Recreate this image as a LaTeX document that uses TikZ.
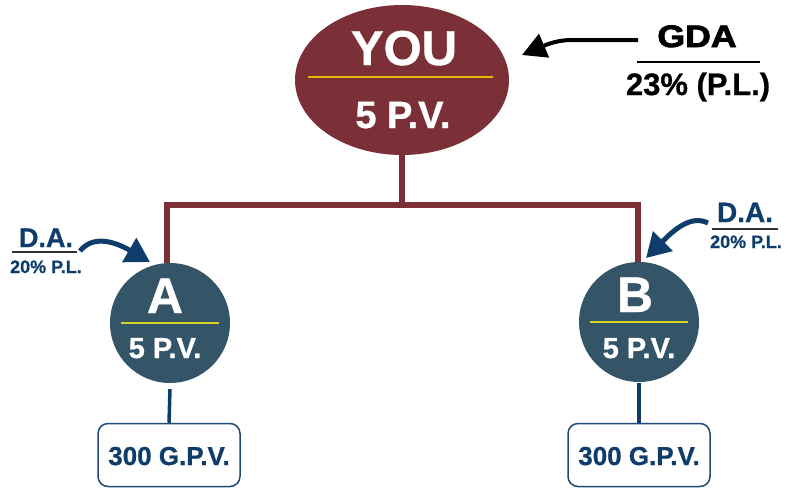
\documentclass[tikz,border=0pt]{standalone}
\usepackage{fontspec}
\setmainfont{Liberation Sans}[BoldFeatures={FakeBold=0.8}]
\newfontfamily\gdafont{Liberation Sans}[BoldFeatures={FakeBold=2.5}]
\usetikzlibrary{shapes.geometric,arrows.meta}
\definecolor{maroon}{HTML}{7B3038}
\definecolor{gold}{HTML}{E3B505}
\definecolor{lime}{HTML}{D9D22B}
\definecolor{slate}{HTML}{345468}
\definecolor{navy}{HTML}{0F3D6B}
\definecolor{boxline}{HTML}{1E4A78}
\newcommand\fsz[1]{\fontsize{#1}{#1}\selectfont\bfseries}
\tikzset{
  lbl/.style={inner sep=0pt, anchor=base},
  white text/.style={lbl, text=white},
  trunk/.style={draw=maroon, line width=5.5pt, line join=miter},
  memb/.style={circle, fill=slate, minimum size=120pt, inner sep=0pt},
  gpvbox/.style={draw=boxline, line width=1.5pt, rounded corners=10pt, minimum width=142pt, minimum height=63pt, inner sep=0pt},
  stem/.style={draw=navy, line width=3.5pt},
  daarrow/.style={draw=navy, line width=5pt, -{Triangle[length=24pt,width=27pt]}},
}
\begin{document}
\begin{tikzpicture}[x=1pt,y=-1pt]
\useasboundingbox (0,0) rectangle (786,488);
% top ellipse
\node[ellipse, fill=maroon, minimum width=214pt, minimum height=150pt, inner sep=0pt] (you) at (402,80) {};
\draw[gold, line width=2pt] ([shift={(-94,-3)}]you.center) -- ([shift={(91,-3)}]you.center);
\node[white text, font=\fsz{49}] (youT) at (404,65) {YOU};
\node[white text, font=\fsz{38}] (youPV) at (403,128) {5 P.V.};
% members
\node[memb] (a) at (170,323) {};
\node[memb] (b) at (639,322) {};
\draw[lime, line width=2pt] ([xshift=11pt]a.west) -- ([xshift=-11pt]a.east);
\draw[lime, line width=2pt] ([xshift=11pt]b.west) -- ([xshift=-11pt]b.east);
\node[white text, font=\fsz{50}] (aT) at (165,313) {A};
\node[white text, font=\fsz{29}] (aPV) at (165,358) {5 P.V.};
\node[white text, font=\fsz{50}] (bT) at (635,312) {B};
\node[white text, font=\fsz{29}] (bPV) at (639,358) {5 P.V.};
% trunk
\coordinate (j) at (402,205);
\draw[trunk] (you.south) -- (j);
\draw[trunk] ([xshift=-3pt]a.north) |- (j) -| ([xshift=-1pt]b.north);
% boxes
\node[gpvbox] (pa) at (169,455) {};
\node[lbl, text=navy, font=\fsz{26}] (paT) at (169,465) {300 G.P.V.};
\node[gpvbox] (pb) at (639,455) {};
\node[lbl, text=navy, font=\fsz{26}] (pbT) at (639,465) {300 G.P.V.};
\draw[stem] (a.south) ++(0,6) -- (pa.north);
\draw[stem] (b.south) ++(0,1) -- (pb.north);
% GDA
\node[lbl, font=\gdafont\fsz{31}] (gda) at (697,47) {\scalebox{1.15}[1]{GDA}};
\draw[line width=1.3pt] (637,62) -- (760,62);
\node[lbl, font=\fsz{31}] (gdapl) at (698,95) {23\% (P.L.)};
\coordinate (gdaS) at (638,40);
\coordinate (gdaE) at (522,55);
\draw[line width=4pt, -{Triangle[length=24pt,width=25pt]}] (gdaS) -- (572,40) .. controls (558,40) and (548,44) .. (gdaE);
% D.A. left
\node[lbl, text=navy, font=\fsz{27}] (daL) at (46,247) {D.A.};
\draw[line width=1.3pt, draw=black!80] (12,252) -- (77,252);
\node[lbl, text=navy, font=\fsz{18}] (daLp) at (46,273) {20\% P.L.};
\coordinate (daLs) at (80,251);
\coordinate (daLe) at (150,262);
\draw[daarrow] (daLs) .. controls (92,236) and (112,240) .. (daLe);
% D.A. right
\node[lbl, text=navy, font=\fsz{28}] (daR) at (745,222) {D.A.};
\draw[line width=1.3pt, draw=black!80] (712,229) -- (778,229);
\node[lbl, text=navy, font=\fsz{18}] (daRp) at (746,248) {20\% P.L.};
\coordinate (daRs) at (708,223);
\coordinate (daRe) at (646,258);
\draw[daarrow] (daRs) .. controls (690,214) and (672,232) .. (daRe);
\end{tikzpicture}
\end{document}
